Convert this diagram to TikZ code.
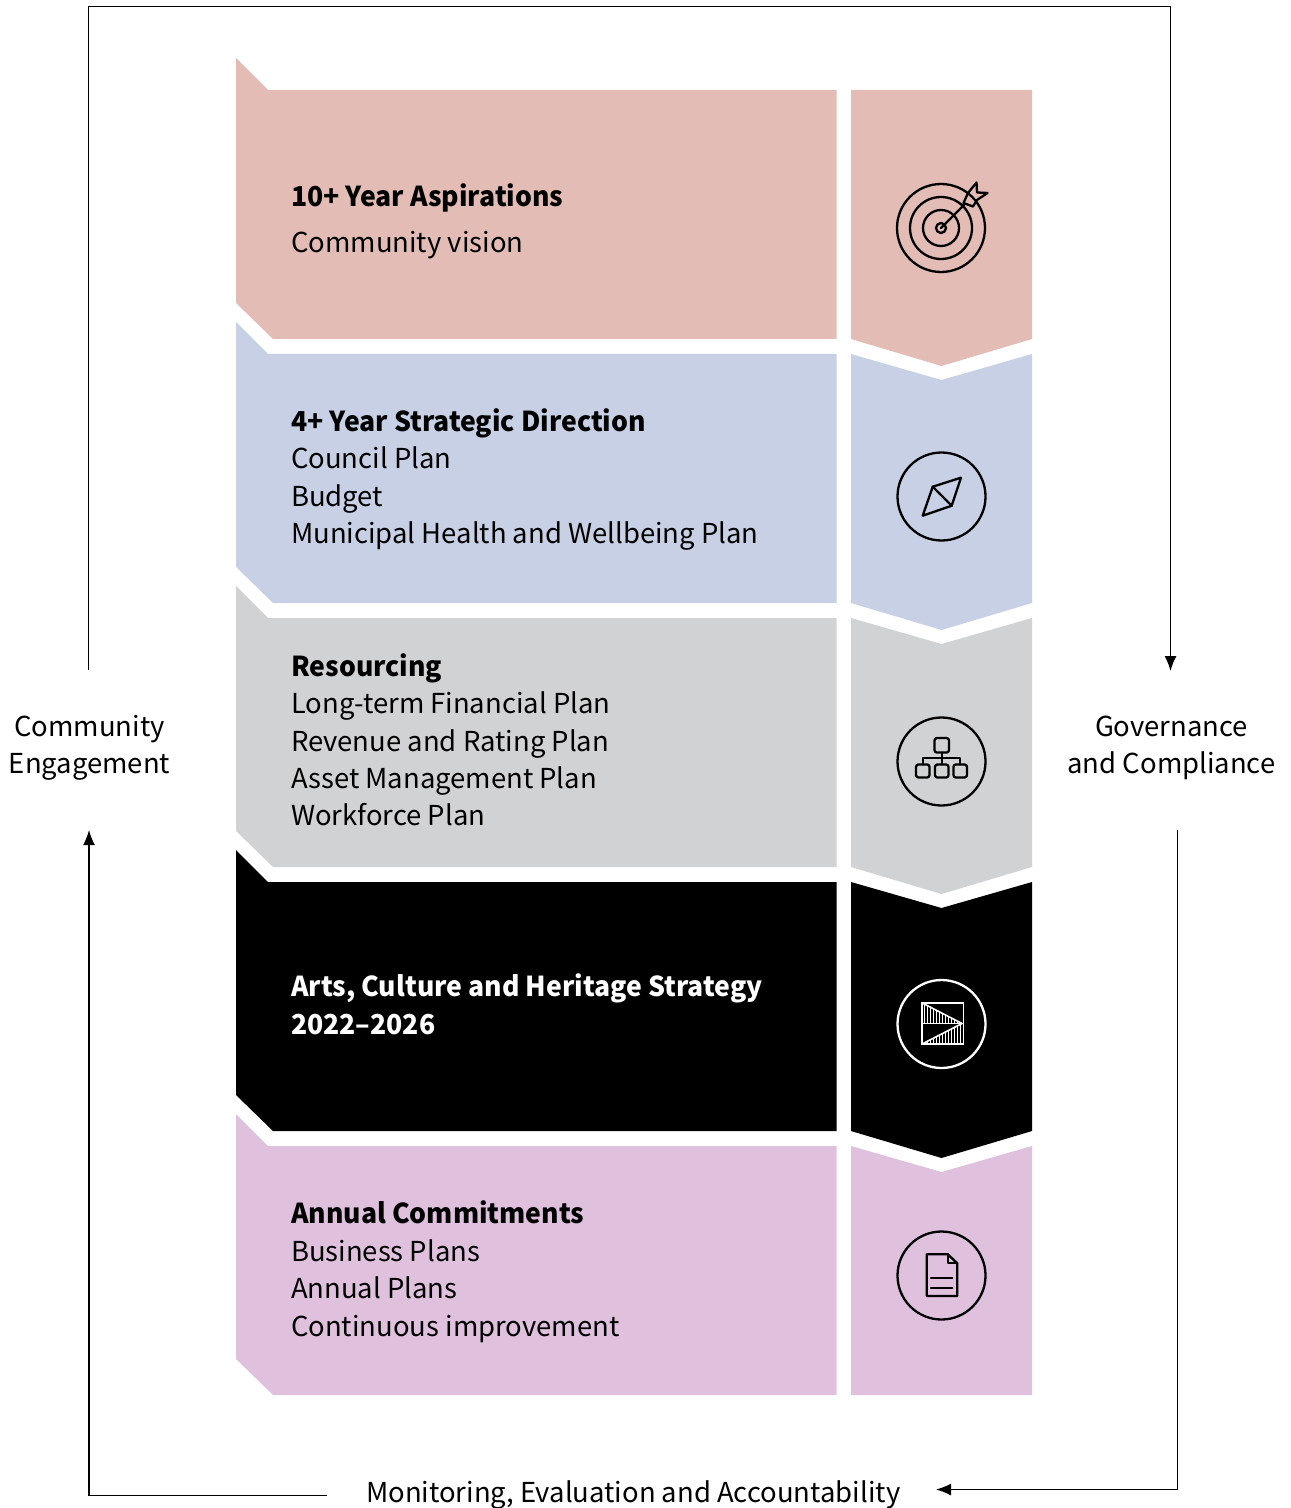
\documentclass[tikz,border=0pt]{standalone}
\usepackage{fontspec}
\setmainfont{Noto Sans CJK SC}[BoldFeatures={FakeStretch=0.97}]
\usetikzlibrary{arrows.meta}
\definecolor{cpink}{HTML}{E2BCB5}
\definecolor{cblue}{HTML}{C7D0E5}
\definecolor{cgrey}{HTML}{D1D2D4}
\definecolor{cmauve}{HTML}{DFC1DE}
\tikzset{
  txt/.style={anchor=base west,inner sep=0pt,font=\fontsize{13.72}{17}\selectfont},
  ttl/.style={anchor=base west,inner sep=0pt,font=\fontsize{13.72}{17}\selectfont\bfseries},
  side/.style={anchor=base,inner sep=0pt,font=\fontsize{13.72}{17}\selectfont},
  flow/.style={draw=black,line width=0.7pt,line join=miter},
  flowarrow/.style={flow,-{Latex[length=7.5pt,width=6pt]}},
  ico/.style={line width=1.15pt,line join=round,line cap=round},
}
\newcommand{\leftband}[3]{% colour, top y, 
  \fill[#1] (236,#2) -- ++(32,32) -- (836.7,#2+32) -- (836.7,#2+281) -- (273,#2+281) -- (236,#2+245) -- cycle;}
\begin{document}
\begin{tikzpicture}[x=0.5pt,y=-0.5pt]
\useasboundingbox (0,0) rectangle (1290,1508);
% left bands
\leftband{cpink}{58}{}
\leftband{cblue}{322}{}
\leftband{cgrey}{586}{}
\leftband{black}{850}{}
\leftband{cmauve}{1114}{}
% right bands
\fill[cpink] (851,90) -- (1032,90) -- (1032,339) -- (941.5,366) -- (851,339) -- cycle;
\fill[cblue] (851,354) -- (941.5,380) -- (1032,354) -- (1032,603) -- (941.5,630) -- (851,603) -- cycle;
\fill[cgrey] (851,618) -- (941.5,644) -- (1032,618) -- (1032,867) -- (941.5,894) -- (851,867) -- cycle;
\fill[black] (851,882) -- (941.5,908) -- (1032,882) -- (1032,1131) -- (941.5,1158) -- (851,1131) -- cycle;
\fill[cmauve] (851,1146) -- (941.5,1172) -- (1032,1146) -- (1032,1395) -- (851,1395) -- cycle;
% band texts
\node[ttl] (t1) at (290.7,207) {10+ Year Aspirations};
\node[txt] (t1a) at (290.7,253) {Community vision};
\node[ttl] (t2) at (290.7,431) {4+ Year Strategic Direction};
\node[txt] (t2a) at (290.7,468) {Council Plan};
\node[txt] (t2b) at (290.7,506) {Budget};
\node[txt] (t2c) at (290.7,543) {Municipal Health and Wellbeing Plan};
\node[ttl] (t3) at (290.7,676) {Resourcing};
\node[txt] (t3a) at (290.7,713) {Long-term Financial Plan};
\node[txt] (t3b) at (290.7,751) {Revenue and Rating Plan};
\node[txt] (t3c) at (290.7,788) {Asset Management Plan};
\node[txt] (t3d) at (290.7,825) {Workforce Plan};
\node[ttl,text=white] (t4) at (290.7,996) {Arts, Culture and Heritage Strategy};
\node[ttl,text=white] (t4a) at (290.7,1034) {2022–2026};
\node[ttl] (t5) at (290.7,1223) {Annual Commitments};
\node[txt] (t5a) at (290.7,1261) {Business Plans};
\node[txt] (t5b) at (290.7,1298) {Annual Plans};
\node[txt] (t5c) at (290.7,1336) {Continuous improvement};
% side labels
\node[side] (ce1) at (89.5,736) {Community};
\node[side] (ce2) at (89.5,773) {Engagement};
\node[side] (gc1) at (1171.5,736) {Governance};
\node[side] (gc2) at (1171.5,773) {and Compliance};
\node[txt] (mea) at (365.7,1502) {Monitoring, Evaluation and Accountability};
% connectors
\coordinate (a0) at (88.5,670);
\coordinate (a1) at (88.5,6.5);
\coordinate (a2) at (1170.5,6.5);
\coordinate (a3) at (1170.5,671);
\draw[flowarrow] (a0) -- (a1) -- (a2) -- (a3);
\coordinate (b0) at (1177.5,830);
\coordinate (b1) at (1177.5,1489.5);
\coordinate (b2) at (936,1489.5);
\draw[flowarrow] (b0) -- (b1) -- (b2);
\coordinate (c0) at (326.5,1495.5);
\coordinate (c1) at (89,1495.5);
\coordinate (c2) at (89,830);
\draw[flowarrow] (c0) -- (c1) -- (c2);
% target icon
\begin{scope}[ico]
\draw (941,228) circle[radius=44];
\draw (941,228) circle[radius=31];
\draw (941,228) circle[radius=18];
\draw (941,228) circle[radius=5];
\draw (941,228) -- (964,205);
\draw (963.5,203) -- (968,193) -- (976.5,182.5) -- (977,192.5) -- (987.5,193) -- (977,200) -- (973,206.5) -- cycle;
\end{scope}
% compass icon
\begin{scope}[ico]
\draw (941.5,496.5) circle[radius=44];
\draw (961,477.7) -- (951.7,505.7) -- (922.7,515.7) -- (932.7,486.7) -- cycle;
\draw (932.7,486.7) -- (951.7,505.7);
\end{scope}
% org chart icon
\begin{scope}[ico]
\draw (941.5,761.5) circle[radius=44];
\draw[rounded corners=1.2pt] (934.5,738) rectangle (949,752.5);
\draw[rounded corners=1.2pt] (916,764.5) rectangle (929.5,777.5);
\draw[rounded corners=1.2pt] (935,764.5) rectangle (948.5,777.5);
\draw[rounded corners=1.2pt] (953.5,764.5) rectangle (967,777.5);
\draw (941.7,752.5) -- (941.7,764.5);
\draw (922.7,764.5) -- (922.7,758.3) -- (960.3,758.3) -- (960.3,764.5);
\end{scope}
% strategy icon
\begin{scope}[white]
\draw[ico,white] (941.5,1024) circle[radius=44];
\draw[white,line width=0.8pt] (921.7,1002.7) rectangle (963.3,1044.2);
\draw[white,line width=0.8pt] (921.7,1023.5) -- (963.3,1023.5);
\draw[white,line width=0.8pt] (921.7,1002.7) -- (962,1023.5) -- (921.7,1044.2);
\foreach \x in {924.7,927.7,...,961} {
  \pgfmathsetmacro{\d}{(\x-921.7)/40.3*20.8}
  \draw[white,line width=0.4pt] (\x,1002.7+\d) -- (\x,1023.5);
  \draw[white,line width=0.4pt] (\x,1044.2-\d) -- (\x,1044.2);
}
\end{scope}
% document icon
\begin{scope}[ico]
\draw (941.5,1275.5) circle[radius=44];
\draw (926.7,1254.3) -- (947.7,1254.3) -- (957.3,1263.3) -- (957.3,1296) -- (926.7,1296) -- cycle;
\draw (947.7,1254.3) -- (947.7,1263.3) -- (957.3,1263.3);
\draw (931,1277.7) -- (952.3,1277.7);
\draw (931,1287.7) -- (952.3,1287.7);
\end{scope}
\end{tikzpicture}
\end{document}
